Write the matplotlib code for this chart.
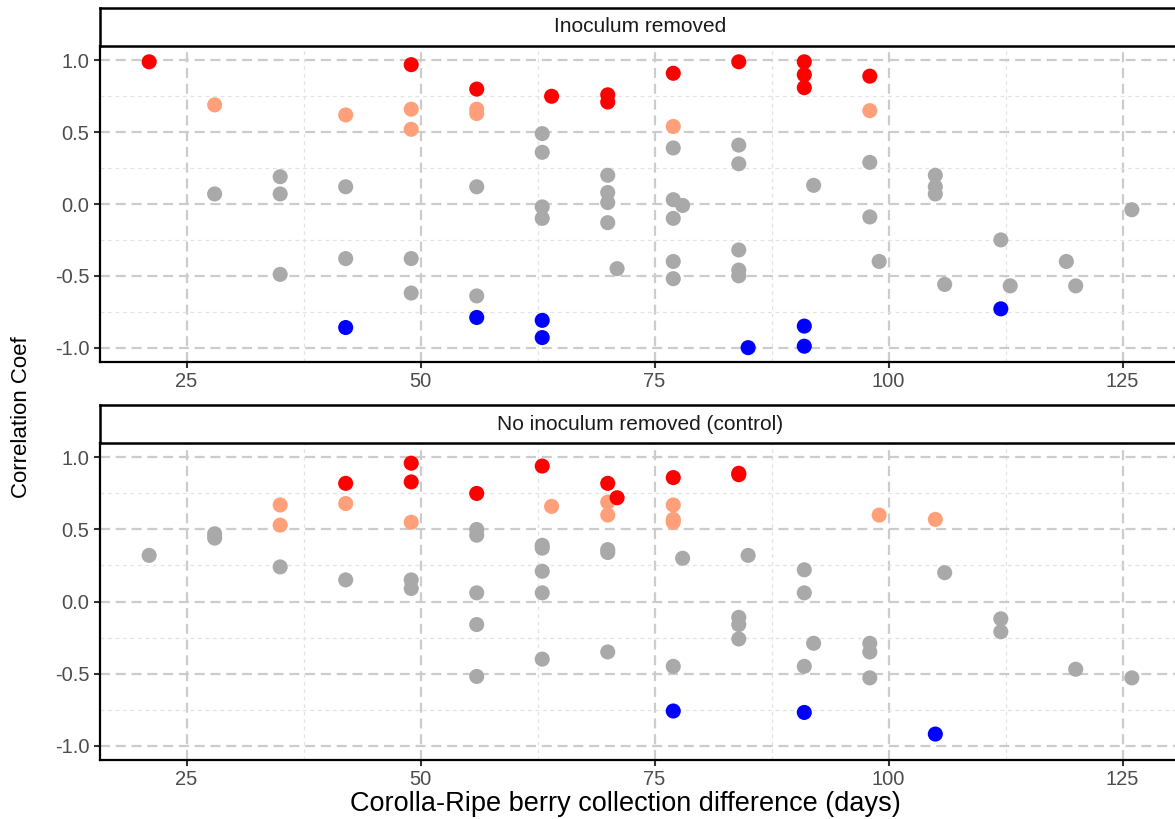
import matplotlib
matplotlib.use("Agg")
import matplotlib.pyplot as plt

plt.rcParams['font.family'] = ['Liberation Sans', 'DejaVu Sans']

# ---- data: Inoculum removed ----
red_x_top = [21, 49, 56, 64, 70, 70, 77, 84, 91, 91, 91, 98]
red_y_top = [0.99, 0.97, 0.80, 0.75, 0.76, 0.71, 0.91, 0.99, 0.99, 0.90, 0.81, 0.89]
salmon_x_top = [28, 42, 49, 49, 56, 56, 77, 98]
salmon_y_top = [0.69, 0.62, 0.66, 0.52, 0.66, 0.63, 0.54, 0.65]
grey_x_top = [28, 35, 35, 35, 42, 42, 49, 49, 56, 56, 63, 63, 63, 63, 70, 70, 70, 70,
              71, 77, 77, 78, 77, 77, 77, 84, 84, 84, 84, 84, 92, 98, 98, 99, 105, 105,
              105, 106, 112, 113, 119, 120, 126]
grey_y_top = [0.07, 0.19, 0.07, -0.49, 0.12, -0.38, -0.38, -0.62, 0.12, -0.64, 0.49, 0.36,
              -0.02, -0.10, 0.20, 0.08, 0.01, -0.13, -0.45, 0.39, 0.03, -0.01, -0.10, -0.40,
              -0.52, 0.41, 0.28, -0.32, -0.46, -0.50, 0.13, 0.29, -0.09, -0.40, 0.20, 0.12,
              0.07, -0.56, -0.25, -0.57, -0.40, -0.57, -0.04]
blue_x_top = [42, 56, 63, 63, 85, 91, 91, 112]
blue_y_top = [-0.86, -0.79, -0.81, -0.93, -1.00, -0.85, -0.99, -0.73]

# ---- data: No inoculum removed (control) ----
red_x_bot = [42, 49, 49, 56, 63, 70, 71, 77, 84, 84]
red_y_bot = [0.82, 0.96, 0.83, 0.75, 0.94, 0.82, 0.72, 0.86, 0.89, 0.88]
salmon_x_bot = [35, 35, 42, 49, 64, 70, 70, 77, 77, 77, 99, 105]
salmon_y_bot = [0.67, 0.53, 0.68, 0.55, 0.66, 0.69, 0.60, 0.67, 0.57, 0.55, 0.60, 0.57]
grey_x_bot = [21, 28, 28, 35, 42, 49, 49, 56, 56, 56, 56, 56, 63, 63, 63, 63, 63, 70, 70,
              70, 78, 85, 91, 91, 91, 84, 84, 84, 77, 92, 98, 98, 98, 106, 112, 112, 120, 126]
grey_y_bot = [0.32, 0.47, 0.44, 0.24, 0.15, 0.15, 0.09, 0.50, 0.46, 0.06, -0.16, -0.52,
              0.39, 0.37, 0.21, 0.06, -0.40, 0.36, 0.34, -0.35, 0.30, 0.32, 0.22, 0.06,
              -0.45, -0.11, -0.16, -0.26, -0.45, -0.29, -0.29, -0.35, -0.53, 0.20, -0.12,
              -0.21, -0.47, -0.53]
blue_x_bot = [77, 91, 105]
blue_y_bot = [-0.76, -0.77, -0.92]

panel_titles = ["Inoculum removed", "No inoculum removed (control)"]
x_ticks = [25, 50, 75, 100, 125]
y_ticks = [-1.0, -0.5, 0.0, 0.5, 1.0]
y_tick_labels = ["-1.0", "-0.5", "0.0", "0.5", "1.0"]
x_label = "Corolla-Ripe berry collection difference (days)"
y_label = "Correlation Coef"

COL_RED = "#FF0000"
COL_SALMON = "#FFA07A"
COL_GREY = "#A9A9A9"
COL_BLUE = "#0000FF"

W, H = 1175, 819
fig = plt.figure(figsize=(W / 100, H / 100), dpi=100)

def fx(px):
    return px / W

def fy(py):
    return 1 - py / H

panel_left = 100
panel_right = 1181
panels = [
    dict(top=46, bottom=362, strip_top=8,
         data=[(grey_x_top, grey_y_top, COL_GREY), (salmon_x_top, salmon_y_top, COL_SALMON),
               (red_x_top, red_y_top, COL_RED), (blue_x_top, blue_y_top, COL_BLUE)]),
    dict(top=443, bottom=760, strip_top=405,
         data=[(grey_x_bot, grey_y_bot, COL_GREY), (salmon_x_bot, salmon_y_bot, COL_SALMON),
               (red_x_bot, red_y_bot, COL_RED), (blue_x_bot, blue_y_bot, COL_BLUE)]),
]

xmin, xmax = 15.75, 131.25
ymin, ymax = -1.1, 1.1

for i, p in enumerate(panels):
    ax = fig.add_axes([fx(panel_left), fy(p['bottom']),
                       fx(panel_right - panel_left), (p['bottom'] - p['top']) / H])
    ax.set_xlim(xmin, xmax)
    ax.set_ylim(ymin, ymax)
    ax.set_xticks(x_ticks)
    ax.set_yticks(y_ticks)
    ax.set_yticklabels(y_tick_labels)
    ax.set_xticks([37.5, 62.5, 87.5, 112.5], minor=True)
    ax.set_yticks([-0.75, -0.25, 0.25, 0.75], minor=True)
    ax.grid(which='major', color='#CCCCCC', linewidth=1.6, linestyle=(0, (4.5, 2.6)))
    ax.grid(which='minor', color='#E3E3E3', linewidth=0.9, linestyle=(0, (3, 3)))
    ax.set_axisbelow(True)
    ax.tick_params(axis='both', which='major', direction='out', length=4, width=1.5,
                   color='#333333', labelcolor='#4D4D4D', labelsize=14.5, pad=3.5)
    ax.tick_params(axis='both', which='minor', length=0)
    for s in ax.spines.values():
        s.set_color('black')
        s.set_linewidth(1.6)
    for xs, ys, col in p['data']:
        ax.scatter(xs, ys, s=118, color=col, edgecolors='none', zorder=3)

    # strip
    sax = fig.add_axes([fx(panel_left), fy(p['top']),
                        fx(panel_right - panel_left), (p['top'] - p['strip_top']) / H])
    sax.set_xticks([])
    sax.set_yticks([])
    sax.set_facecolor('white')
    for s in sax.spines.values():
        s.set_color('black')
        s.set_linewidth(1.8)
    sax.text(0.5, 0.5, panel_titles[i], transform=sax.transAxes, ha='center',
             va='center', fontsize=15, color='#1A1A1A')

fig.text(fx(625), fy(804), x_label, ha='center', va='center', fontsize=19.5, color='black')
fig.text(fx(22), fy(417), y_label, ha='center', va='center', rotation=90,
         fontsize=16, color='black')

fig.savefig("out.png", dpi=100)
